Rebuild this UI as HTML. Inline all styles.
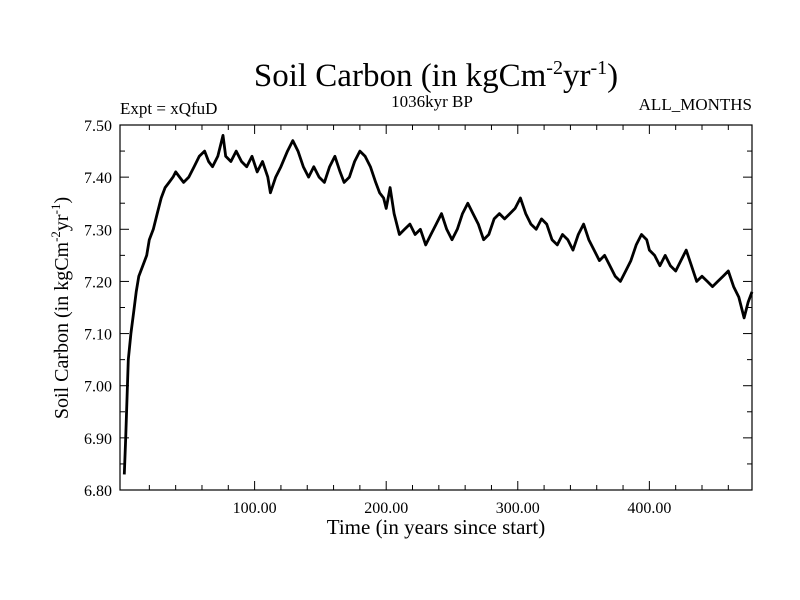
<!DOCTYPE html>
<html><head><meta charset="utf-8"><style>
body{margin:0;background:#fff;}
svg{display:block;font-family:"Liberation Serif",serif;}
</style></head><body>
<svg id="chart" width="800" height="600">
<text x="436" y="86" font-size="33" text-anchor="middle">Soil Carbon (in kgCm<tspan dy="-12" font-size="20">-2</tspan><tspan dy="12">yr</tspan><tspan dy="-12" font-size="20">-1</tspan><tspan dy="12">)</tspan></text>
<text x="120" y="114" font-size="17">Expt = xQfuD</text>
<text x="432" y="107" font-size="17" text-anchor="middle">1036kyr BP</text>
<text x="752" y="110" font-size="17" text-anchor="end">ALL_MONTHS</text>
<text x="436" y="534" font-size="21" text-anchor="middle">Time (in years since start)</text>
<text transform="translate(68,308) rotate(-90)" font-size="20" text-anchor="middle">Soil Carbon (in kgCm<tspan dy="-8" font-size="13">-2</tspan><tspan dy="8">yr</tspan><tspan dy="-8" font-size="13">-1</tspan><tspan dy="8">)</tspan></text>
<g id="axes"></g>
<path id="line" fill="none" stroke="#000" stroke-width="2.8" stroke-linejoin="round"/>
</svg>
<script>
const years=[1,2,4,6,8,10,12,15,18,20,23,26,29,32,35,38,40,43,46,50,54,58,62,65,68,72,76,78,82,86,90,94,98,102,106,110,112,116,120,125,129,133,137,141,145,149,153,157,161,165,168,172,176,180,184,188,192,195,198,200,203,206,210,214,218,222,226,230,234,238,242,246,250,254,258,262,266,270,274,278,282,286,290,294,298,302,306,310,314,318,322,326,330,334,338,342,346,350,354,358,362,366,370,374,378,382,386,390,394,398,400,404,408,412,416,420,424,428,432,436,440,444,448,452,456,460,464,468,472,475,478];
const values=[6.83,6.90,7.05,7.10,7.14,7.18,7.21,7.23,7.25,7.28,7.30,7.33,7.36,7.38,7.39,7.40,7.41,7.40,7.39,7.40,7.42,7.44,7.45,7.43,7.42,7.44,7.48,7.44,7.43,7.45,7.43,7.42,7.44,7.41,7.43,7.40,7.37,7.40,7.42,7.45,7.47,7.45,7.42,7.40,7.42,7.40,7.39,7.42,7.44,7.41,7.39,7.40,7.43,7.45,7.44,7.42,7.39,7.37,7.36,7.34,7.38,7.33,7.29,7.30,7.31,7.29,7.30,7.27,7.29,7.31,7.33,7.30,7.28,7.30,7.33,7.35,7.33,7.31,7.28,7.29,7.32,7.33,7.32,7.33,7.34,7.36,7.33,7.31,7.30,7.32,7.31,7.28,7.27,7.29,7.28,7.26,7.29,7.31,7.28,7.26,7.24,7.25,7.23,7.21,7.20,7.22,7.24,7.27,7.29,7.28,7.26,7.25,7.23,7.25,7.23,7.22,7.24,7.26,7.23,7.20,7.21,7.20,7.19,7.20,7.21,7.22,7.19,7.17,7.13,7.16,7.18];
const xTicks=[100,200,300,400];
const xTickLabels=["100.00","200.00","300.00","400.00"];
const yTicks=[6.8,6.9,7.0,7.1,7.2,7.3,7.4,7.5];
const yTickLabels=["6.80","6.90","7.00","7.10","7.20","7.30","7.40","7.50"];
const L=120,R=752,T=125,B=490,X0=-2.3,X1=478,Y0=6.8,Y1=7.5;
const sx=v=>L+(v-X0)/(X1-X0)*(R-L);
const sy=v=>B-(v-Y0)/(Y1-Y0)*(B-T);
const NS="http://www.w3.org/2000/svg";
const g=document.getElementById('axes');
function mk(t,a){const e=document.createElementNS(NS,t);for(const k in a)e.setAttribute(k,a[k]);g.appendChild(e);return e;}
const fr=mk('rect',{x:L,y:T,width:R-L,height:B-T,fill:'none',stroke:'#000','stroke-width':1.2});


for(let v=20;v<X1;v+=20){const maj=v%100===0,len=maj?9:5,x=sx(v);
mk('line',{x1:x,y1:B,x2:x,y2:B-len,stroke:'#000'});mk('line',{x1:x,y1:T,x2:x,y2:T+len,stroke:'#000'});}
xTicks.forEach((v,i)=>{const t=mk('text',{x:sx(v),y:B+23,'font-size':16,'text-anchor':'middle'});t.textContent=xTickLabels[i];

});
for(let k=0;k<=14;k++){const v=Y0+k*0.05,maj=k%2===0,len=maj?9:5,y=sy(v);
mk('line',{x1:L,y1:y,x2:L+len,y2:y,stroke:'#000'});mk('line',{x1:R,y1:y,x2:R-len,y2:y,stroke:'#000'});}
yTicks.forEach((v,i)=>{const t=mk('text',{x:L-8,y:sy(v)+6,'font-size':16,'text-anchor':'end'});t.textContent=yTickLabels[i];

});
document.getElementById('line').setAttribute('d',years.map((t,i)=>(i?'L':'M')+sx(t).toFixed(1)+','+sy(values[i]).toFixed(1)).join(''));
</script>
</body></html>
